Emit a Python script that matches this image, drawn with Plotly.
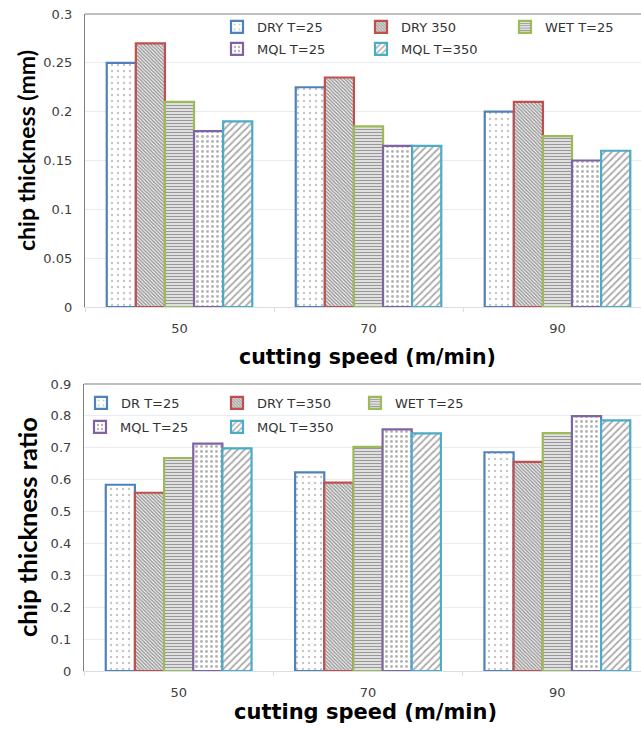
import plotly.graph_objects as go

speeds = ["50", "70", "90"]

top_names = ["DRY T=25", "DRY 350", "WET T=25", "MQL T=25", "MQL T=350"]
top_dry25 = [0.25, 0.225, 0.20]
top_dry350 = [0.27, 0.235, 0.21]
top_wet25 = [0.21, 0.185, 0.175]
top_mql25 = [0.18, 0.165, 0.15]
top_mql350 = [0.19, 0.165, 0.16]

bot_names = ["DR T=25", "DRY T=350", "WET T=25", "MQL T=25", "MQL T=350"]
bot_dry25 = [0.584, 0.623, 0.686]
bot_dry350 = [0.559, 0.591, 0.656]
bot_wet25 = [0.668, 0.703, 0.746]
bot_mql25 = [0.713, 0.758, 0.799]
bot_mql350 = [0.698, 0.745, 0.786]

top_ticks = [0, 0.05, 0.1, 0.15, 0.2, 0.25, 0.3]
bot_ticks = [0, 0.1, 0.2, 0.3, 0.4, 0.5, 0.6, 0.7, 0.8, 0.9]

colors = ["#4F81BD", "#C0504D", "#9BBB59", "#8064A2", "#4BACC6"]
patterns = [
    dict(shape=".", size=6, solidity=0.12, fgcolor="#8a8a8a", bgcolor="white", fillmode="overlay"),
    dict(shape="\\", size=2.5, solidity=0.6, fgcolor="#333333", bgcolor="white", fillmode="overlay"),
    dict(shape="-", size=3, solidity=0.55, fgcolor="#333333", bgcolor="white", fillmode="overlay"),
    dict(shape=".", size=5, solidity=0.28, fgcolor="#6a6a6a", bgcolor="white", fillmode="overlay"),
    dict(shape="/", size=5, solidity=0.35, fgcolor="#555555", bgcolor="white", fillmode="overlay"),
]

W, H = 641, 733
FONT = "DejaVu Sans"
TFONT = "Lato"

def py(p):
    return 1 - p / H

def px(p):
    return p / W

# legend item placement (pixel left of symbol, pixel row centre)
top_leg_pos = [(238, 27), (382, 27), (526, 27), (238, 49), (382, 49)]
bot_leg_pos = [(102, 403), (238, 403), (376, 403), (101, 427), (238, 427)]

fig = go.Figure()

top_series = [top_dry25, top_dry350, top_wet25, top_mql25, top_mql350]
bot_series = [bot_dry25, bot_dry350, bot_wet25, bot_mql25, bot_mql350]

legend_common = dict(
    orientation="h", xanchor="left", yanchor="middle", bgcolor="rgba(0,0,0,0)",
    font=dict(family=FONT, size=13, color="#333333"), itemwidth=30,
)
legends = {}
k = 0
for i, (name, vals) in enumerate(zip(top_names, top_series)):
    k += 1
    lname = "legend" if k == 1 else f"legend{k}"
    fig.add_trace(go.Bar(
        x=speeds, y=vals, name=name, xaxis="x", yaxis="y",
        marker=dict(color="white", line=dict(color=colors[i], width=2.2), pattern=patterns[i]),
        legend=lname,
    ))
    lx, ly = top_leg_pos[i]
    legends[lname] = dict(x=px(lx - 21), y=py(ly), **legend_common)
for i, (name, vals) in enumerate(zip(bot_names, bot_series)):
    k += 1
    lname = f"legend{k}"
    fig.add_trace(go.Bar(
        x=speeds, y=vals, name=name, xaxis="x2", yaxis="y2",
        marker=dict(color="white", line=dict(color=colors[i], width=2.2), pattern=patterns[i]),
        legend=lname,
    ))
    lx, ly = bot_leg_pos[i]
    legends[lname] = dict(x=px(lx - 21), y=py(ly), **legend_common)

xr = [-0.5, 2.5 - 11 / 189]
axis_common = dict(
    type="category", range=xr, showgrid=False, showline=True, linecolor="#D9DEE6", linewidth=1,
    ticks="outside", tickson="boundaries", ticklen=4, tickcolor="#D9DEE6",
    tickfont=dict(family=FONT, size=13, color="#404040"), ticklabelstandoff=9,
)
yaxis_common = dict(
    showgrid=True, gridcolor="#E6ECF2", gridwidth=1, showline=True, linecolor="#7F7F7F", linewidth=1.2,
    zeroline=False, ticks="", tickfont=dict(family=FONT, size=13, color="#404040"), ticklabelstandoff=9,
)

fig.update_layout(
    width=W, height=H, margin=dict(l=0, r=0, t=0, b=0, autoexpand=False),
    paper_bgcolor="white", plot_bgcolor="white",
    barmode="group", bargap=0.23, bargroupgap=0,
    xaxis=dict(domain=[px(85), 1], anchor="y", **axis_common),
    yaxis=dict(domain=[py(307), py(14)], anchor="x", range=[0, 0.3], tickvals=top_ticks,
               ticktext=["0", "0.05", "0.1", "0.15", "0.2", "0.25", "0.3"], **yaxis_common),
    xaxis2=dict(domain=[px(84), 1], anchor="y2", **axis_common),
    yaxis2=dict(domain=[py(671), py(384)], anchor="x2", range=[0, 0.9], tickvals=bot_ticks,
                ticktext=["0", "0.1", "0.2", "0.3", "0.4", "0.5", "0.6", "0.7", "0.8", "0.9"], **yaxis_common),
    showlegend=True,
    **legends,
)

# top borders of the plot areas
fig.add_shape(type="line", xref="paper", yref="paper", x0=px(85), x1=1, y0=py(14), y1=py(14),
              line=dict(color="#7F7F7F", width=1.2))
fig.add_shape(type="line", xref="paper", yref="paper", x0=px(84), x1=1, y0=py(384), y1=py(384),
              line=dict(color="#7F7F7F", width=1.2))

fig.add_annotation(text="<b>chip thickness (mm)</b>", xref="paper", yref="paper", x=px(26), y=py(151),
                   textangle=-90, showarrow=False, font=dict(family=TFONT, size=23, color="black"),
                   xanchor="center", yanchor="middle")
fig.add_annotation(text="<b>cutting speed (m/min)</b>", xref="paper", yref="paper", x=px(367), y=py(357),
                   showarrow=False, font=dict(family=FONT, size=20.5, color="black"),
                   xanchor="center", yanchor="middle")
fig.add_annotation(text="<b>chip thickness ratio</b>", xref="paper", yref="paper", x=px(27), y=py(527),
                   textangle=-90, showarrow=False, font=dict(family=TFONT, size=25.5, color="black"),
                   xanchor="center", yanchor="middle")
fig.add_annotation(text="<b>cutting speed (m/min)</b>", xref="paper", yref="paper", x=px(365), y=py(712),
                   showarrow=False, font=dict(family=FONT, size=21, color="black"),
                   xanchor="center", yanchor="middle")

fig.write_html("out.html", config={"displayModeBar": False},
               post_script="document.body.style.margin='0';document.body.style.overflow='hidden';")
